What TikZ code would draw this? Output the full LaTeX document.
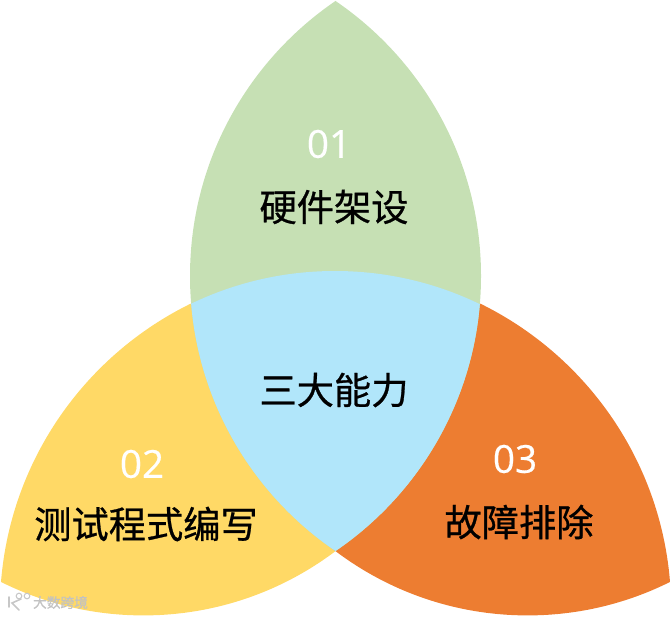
\documentclass[tikz,border=0pt]{standalone}
\usepackage{fontspec}
\setmainfont[FakeBold=0.4]{Open Sans}
\newfontfamily\cjkfont[FakeBold=0.7]{Noto Sans CJK SC}
\usepackage{tikz}
\definecolor{leafgreen}{HTML}{C6E0B4}
\definecolor{sunyellow}{HTML}{FFD966}
\definecolor{burntorange}{HTML}{ED7D31}
\definecolor{skyblue}{HTML}{B1E6FA}

\begin{document}
\begin{tikzpicture}[
  x=0.02cm,
  y=0.02cm,
  numlabel/.style={
    text=white,
    font=\fontsize{22pt}{26pt}\selectfont,
    inner sep=0pt
  },
  caption/.style={
    text=black,
    font=\cjkfont\fontsize{21.2pt}{25pt}\selectfont,
    inner sep=0pt
  },
  watermark/.style={
    text=black!24,
    font=\cjkfont\fontsize{7.8pt}{9pt}\selectfont,
    inner sep=0pt
  }
]
\useasboundingbox (0,0) rectangle (671,616);

\coordinate (leftc) at (522.6,340);
\coordinate (rightc) at (148.4,340);
\coordinate (basec) at (335,13);
\coordinate (upleft) at (340.3,6.5);
\coordinate (upright) at (330.7,6.5);
\coordinate (lowleft) at (143.4,319.6);
\coordinate (lowright) at (527.6,319.6);

% ------------------------------------------------
% Petals
% ------------------------------------------------
\begin{scope}
  \clip (upleft) circle[radius=340.4];
  \fill[sunyellow] (lowleft) circle[radius=319];
\end{scope}

\begin{scope}
  \clip (upright) circle[radius=340.4];
  \fill[burntorange] (lowright) circle[radius=319];
\end{scope}

\begin{scope}
  \clip (leftc) circle[radius=332.6];
  \fill[leafgreen] (rightc) circle[radius=332.6];
\end{scope}

% Overlap of all three in the middle.
\begin{scope}
  \clip (leftc) circle[radius=332.6];
  \clip (rightc) circle[radius=332.6];
  \fill[skyblue] (basec) circle[radius=332];
\end{scope}

% ------------------------------------------------
% Labels
% ------------------------------------------------
\node[numlabel] (numa) at (329,472) {01};
\node[caption] (hardware) at (334,409) {硬件架设};
\node[caption] (abilities) at (334,226) {三大能力};
\node[numlabel] (numb) at (142,152) {02};
\node[caption] (testing) at (146,92) {测试程式编写};
\node[numlabel] (numc) at (515,157) {03};
\node[caption] (repair) at (519,94) {故障排除};

% ------------------------------------------------
% Watermark
% ------------------------------------------------
\draw[black!22, line width=0.9pt, line cap=round]
  (9,19) -- (9,9) (21,17) -- (12,13) -- (19,6);
\draw[black!22, line width=0.6pt] (19,20) circle[radius=2.8] (27,20) circle[radius=2.8];
\node[watermark] (mark) at (60.5,13.5) {大数跨境};

\end{tikzpicture}
\end{document}
